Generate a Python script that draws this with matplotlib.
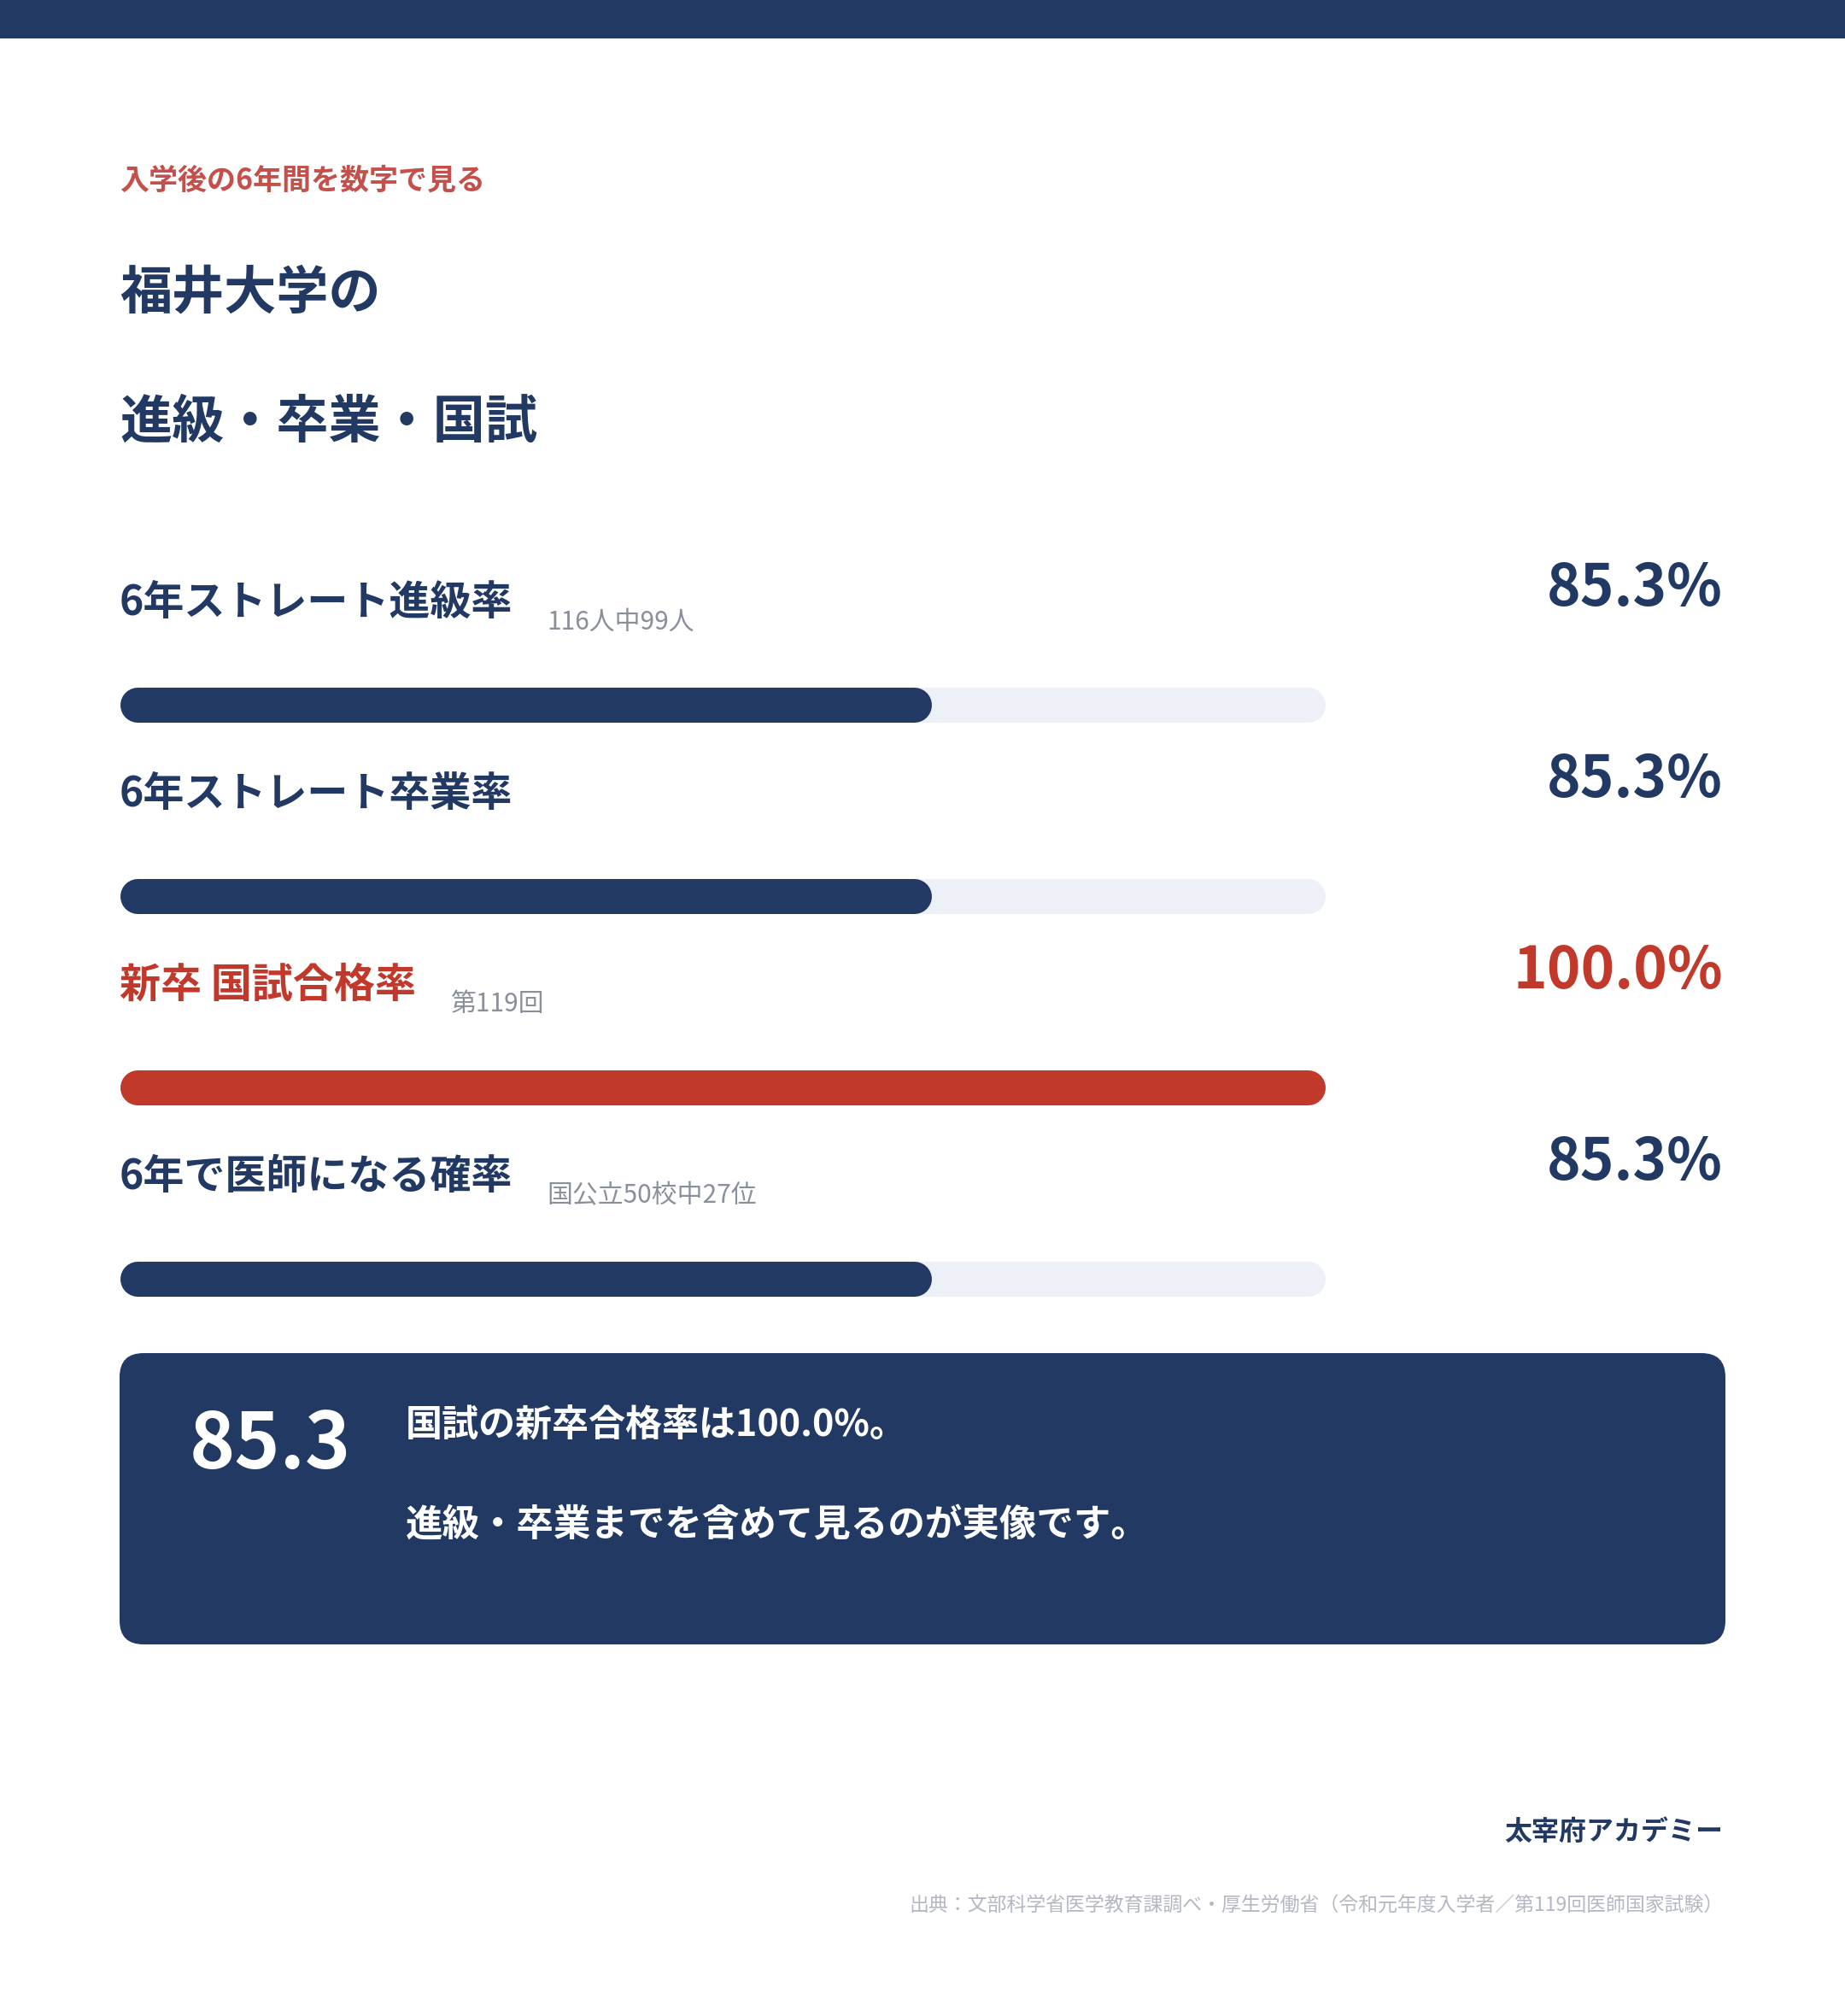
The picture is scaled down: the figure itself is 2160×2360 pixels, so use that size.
import matplotlib
matplotlib.use("Agg")
import matplotlib.pyplot as plt
from matplotlib.patches import Rectangle, FancyBboxPatch

plt.rcParams['font.family'] = ['Noto Sans CJK JP', 'DejaVu Sans']

# data
labels = ['6年ストレート進級率', '6年ストレート卒業率', '新卒 国試合格率', '6年で医師になる確率']
notes = ['116人中99人', '', '第119回', '国公立50校中27位']
rates = [85.3, 85.3, 100.0, 85.3]
# bar lengths as drawn in the picture (% of the track), they do not follow the rates
bar_fill = [67.3, 67.3, 100.0, 67.3]
highlight = [False, False, True, False]

kicker = '入学後の6年間を数字で見る'
title_lines = ['福井大学の', '進級・卒業・国試']
summary = ['国試の新卒合格率は{:.1f}%。'.format(rates[2]),
           '進級・卒業までを含めて見るのが実像です。']
brand = '太宰府アカデミー'
source = '出典：文部科学省医学教育課調べ・厚生労働省（令和元年度入学者／第119回医師国家試験）'

# colours
navy = '#213963'
red = '#c0392b'
kicker_red = '#c4504b'
track = '#edf0f7'
grey = '#8a909a'
light_grey = '#b4b8c2'

W, H = 2160, 2360
fig = plt.figure(figsize=(W / 100, H / 100), dpi=100)
fig.patch.set_facecolor('white')

# background axes in pixel units
ax = fig.add_axes([0, 0, 1, 1])
ax.set_xlim(0, W)
ax.set_ylim(H, 0)
ax.axis('off')

ax.add_patch(Rectangle((0, 0), W, 45, color=navy, lw=0))

ax.text(140, 211, kicker, color=kicker_red, fontsize=24.5, fontweight='bold', va='center')
ax.text(140, 344, title_lines[0], color=navy, fontsize=44, fontweight='bold', va='center')
ax.text(140, 495, title_lines[1], color=navy, fontsize=44, fontweight='bold', va='center')

# rows
row0 = 705
step = 224
for i in range(len(labels)):
    col = red if highlight[i] else navy
    lbl = ax.text(140, row0 + step * i, labels[i], color=col, fontsize=34.6,
                  fontweight='bold', va='center')
    if notes[i]:
        ax.annotate(notes[i], xy=(1, 0.5), xycoords=lbl, xytext=(40, -23),
                    textcoords='offset pixels', color=grey, fontsize=21.5,
                    va='center', ha='left')
    ax.text(2017, row0 - 16 + step * i, '{:.1f}%'.format(rates[i]), color=col,
            fontsize=48.5, fontweight='bold', va='center', ha='right')

# bars
track_left, track_px = 140, 1412
bar_top, bar_h = 824.5 - step / 2, 41
axb = fig.add_axes([track_left / W, 1 - (bar_top + step * 4) / H,
                    track_px / W, step * 4 / H])
axb.set_xlim(0, 100)
axb.set_ylim(3.5, -0.5)
axb.axis('off')
r = (bar_h / 2) / (track_px / 100)
lw = bar_h * 72 / 100
for i in range(len(labels)):
    col = red if highlight[i] else navy
    axb.plot([r, 100 - r], [i, i], color=track, lw=lw, solid_capstyle='round')
    axb.plot([r, bar_fill[i] - r], [i, i], color=col, lw=lw, solid_capstyle='round')

# summary box
ax.add_patch(FancyBboxPatch((140, 1584), 1880, 341,
                            boxstyle='round,pad=0,rounding_size=28',
                            fc=navy, ec='none'))
ax.text(222, 1692, '{:.1f}'.format(rates[3]), color='white', fontsize=65,
        fontweight='bold', va='center')
ax.text(475, 1669, summary[0], color='white', fontsize=31, fontweight='bold', va='center')
ax.text(475, 1785, summary[1], color='white', fontsize=31.3, fontweight='bold', va='center')

# footer
ax.text(2017, 2145, brand, color=navy, fontsize=23, fontweight='bold',
        va='center', ha='right')
ax.text(2018, 2231, source, color=light_grey, fontsize=16.5, va='center', ha='right')

fig.savefig('out.png', dpi=100)
